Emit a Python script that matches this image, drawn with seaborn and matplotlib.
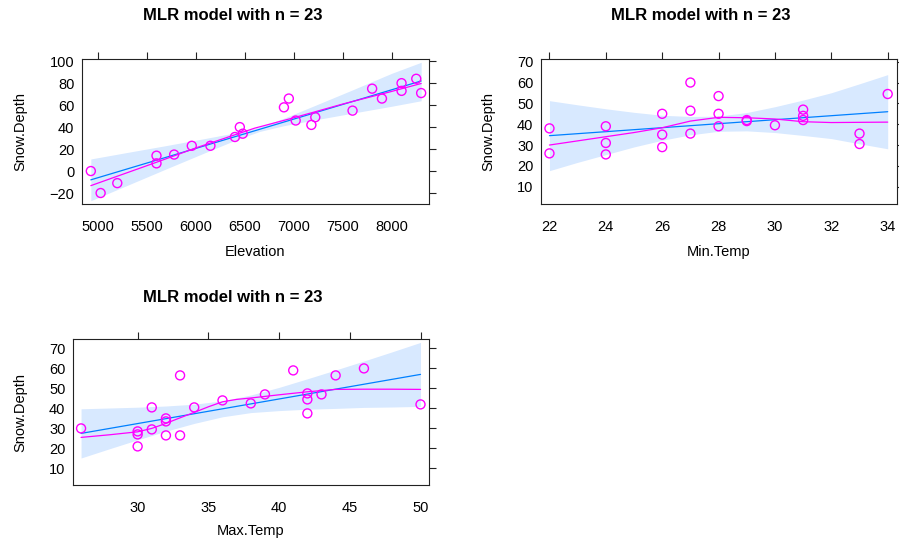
import numpy as np
import pandas as pd
import matplotlib
matplotlib.use("Agg")
import matplotlib.pyplot as plt
import seaborn as sns

# partial residuals (points)
elev_x = [4930, 5030, 5200, 5600, 5600, 5780, 5960, 6150, 6400, 6450, 6480, 6900,
          6950, 7020, 7180, 7220, 7600, 7800, 7900, 8100, 8100, 8250, 8300]
elev_y = [0, -20, -11, 14, 7, 15, 23, 23, 31, 40, 34, 58,
          66, 46, 42, 49, 55, 75, 66, 80, 73, 84, 71]

mint_x = [22, 22, 24, 24, 24, 26, 26, 26, 27, 27, 27, 28,
          28, 28, 29, 29, 30, 31, 31, 31, 33, 33, 34]
mint_y = [38, 26, 39, 31, 25.5, 45, 35, 29, 60, 46.5, 35.5, 53.5,
          45, 39, 41.5, 42, 39.5, 47, 44, 42, 35.5, 30.5, 54.5]

maxt_x = [26, 30, 30, 30, 31, 31, 32, 32, 32, 33, 33, 34,
          36, 38, 39, 41, 42, 42, 42, 43, 44, 46, 50]
maxt_y = [30, 28.5, 27, 21, 40.5, 29.5, 35, 33.5, 26.5, 56.5, 26.5, 40.5,
          44, 42.5, 47, 59, 47.5, 44.5, 37.5, 47, 56.5, 60, 42]

# fitted effect line
elev_fit_x = [4930, 8300]
elev_fit_y = [-8, 82]
mint_fit_x = [22, 34]
mint_fit_y = [34.5, 46]
maxt_fit_x = [26, 50]
maxt_fit_y = [27.5, 57]

# confidence band
elev_band_x = [4930, 5300, 5700, 6100, 6400, 6650, 6900, 7200, 7600, 8000, 8300]
elev_band_lo = [-27, -13.1, 2.0, 16.9, 27.9, 36.0, 41.3, 46.3, 52.7, 59.0, 64]
elev_band_hi = [11, 16.9, 23.2, 29.7, 34.7, 40.0, 48.1, 59.1, 73.9, 89.0, 99]

mint_band_x = [22, 23, 24, 25, 26, 27, 28, 29, 30, 31, 32, 33, 34]
mint_band_lo = [17.7, 21.7, 25.4, 29.1, 32.3, 34.9, 36.6, 36.8, 36.0, 34.6, 33.1, 30.6, 28.2]
mint_band_hi = [51.3, 49.3, 47.4, 45.7, 44.3, 43.7, 43.9, 45.6, 48.4, 51.6, 55.1, 59.4, 63.8]

maxt_band_x = [26, 28, 30, 32, 34, 36, 38, 40, 42, 44, 46, 48, 50]
maxt_band_lo = [15.2, 19.8, 24.3, 28.6, 32.5, 35.8, 37.9, 38.9, 39.6, 40.0, 40.5, 40.7, 41.0]
maxt_band_hi = [39.8, 40.2, 40.6, 41.2, 42.1, 43.8, 46.7, 50.5, 54.8, 59.2, 63.7, 68.3, 73.0]

# loess smooth of residuals
elev_sm_x = [4930, 5600, 6000, 6600, 7000, 7500, 8000, 8300]
elev_sm_y = [-13.3, 8, 21, 39, 48.5, 61, 72.5, 79.7]
mint_sm_x = [22, 23, 24, 25, 26, 27, 28, 29, 30, 31, 32, 33, 34]
mint_sm_y = [30, 32, 34, 36, 38.3, 41.5, 43.3, 43.1, 42.5, 41.2, 40.8, 40.9, 41.0]
maxt_sm_x = [26, 28, 30, 31, 32, 33, 34, 35, 36, 37, 38, 40, 42, 44, 46, 48, 50]
maxt_sm_y = [25.5, 26.8, 28.3, 30, 32.5, 35.3, 38, 40.8, 43.3, 44.5, 45.2, 46.8, 48.3,
             49.5, 49.6, 49.6, 49.5]

sns.set_style("white")
plt.rcParams['font.family'] = ['Liberation Sans', 'DejaVu Sans']
plt.rcParams['text.color'] = 'black'
plt.rcParams['xtick.color'] = 'black'
plt.rcParams['ytick.color'] = 'black'
plt.rcParams['axes.labelcolor'] = 'black'

BLUE = "#0080ff"
MAG = "#ff00ff"
BAND = "#d8e9ff"

fig = plt.figure(figsize=(8.99, 5.43), dpi=100)
W, H = 899, 543


def add_ax(l, t, r, b):
    return fig.add_axes([l / W, 1 - b / H, (r - l) / W, (b - t) / H])


panels = [
    dict(box=(82, 59, 429, 204), name="Elevation", px=elev_x, py=elev_y,
         fx=elev_fit_x, fy=elev_fit_y, bx=elev_band_x, blo=elev_band_lo, bhi=elev_band_hi,
         sx=elev_sm_x, sy=elev_sm_y, xlim=(4840, 8380), ylim=(-30, 102),
         xt=np.arange(5000, 8001, 500), yt=np.arange(-20, 101, 20),
         title=(233, 16), ylab=20, xlab=252),
    dict(box=(541, 59, 897, 204), name="Min.Temp", px=mint_x, py=mint_y,
         fx=mint_fit_x, fy=mint_fit_y, bx=mint_band_x, blo=mint_band_lo, bhi=mint_band_hi,
         sx=mint_sm_x, sy=mint_sm_y, xlim=(21.7, 34.33), ylim=(1.7, 71.3),
         xt=np.arange(22, 35, 2), yt=np.arange(10, 71, 10),
         title=(701, 16), ylab=488, xlab=252),
    dict(box=(73, 339, 429, 485), name="Max.Temp", px=maxt_x, py=maxt_y,
         fx=maxt_fit_x, fy=maxt_fit_y, bx=maxt_band_x, blo=maxt_band_lo, bhi=maxt_band_hi,
         sx=maxt_sm_x, sy=maxt_sm_y, xlim=(25.43, 50.6), ylim=(1.7, 74.7),
         xt=np.arange(30, 51, 5), yt=np.arange(10, 71, 10),
         title=(233, 297), ylab=20, xlab=531),
]

for p in panels:
    ax = add_ax(*p["box"])
    ax.fill_between(p["bx"], p["blo"], p["bhi"], color=BAND, linewidth=0, zorder=1)
    fit = pd.DataFrame({"x": p["fx"], "y": p["fy"]})
    sns.lineplot(data=fit, x="x", y="y", color=BLUE, linewidth=0.9, ax=ax, zorder=3)
    sm = pd.DataFrame({"x": p["sx"], "y": p["sy"]})
    sns.lineplot(data=sm, x="x", y="y", color=MAG, linewidth=0.9, ax=ax, zorder=3)
    pts = pd.DataFrame({"x": p["px"], "y": p["py"]})
    sns.scatterplot(data=pts, x="x", y="y", marker="o", s=42, facecolors="none",
                    edgecolor=MAG, linewidth=1.0, ax=ax, zorder=4)

    ax.set_xlim(*p["xlim"])
    ax.set_ylim(*p["ylim"])
    ax.set_xticks(p["xt"])
    ax.set_yticks(p["yt"])
    ax.tick_params(axis="both", direction="out", length=5, width=0.8, color="#222222",
                   labelsize=10.5, labelcolor="black", top=True, right=True,
                   left=False, bottom=False, labeltop=False, labelright=False)
    ax.tick_params(axis="y", pad=0.5)
    ax.tick_params(axis="x", pad=6.5)
    for s in ax.spines.values():
        s.set_color("#222222")
        s.set_linewidth(0.8)
    ax.set_xlabel("")
    ax.set_ylabel("")
    l, t, r, b = p["box"]
    fig.text(p["ylab"] / W, 1 - ((t + b) / 2) / H, "Snow.Depth", rotation=90,
             ha="center", va="center", fontsize=10.5)
    fig.text(((l + r) / 2) / W, 1 - p["xlab"] / H, p["name"],
             ha="center", va="center", fontsize=10.5)
    fig.text(p["title"][0] / W, 1 - p["title"][1] / H, "MLR model with n = 23",
             ha="center", va="center", fontsize=12, fontweight="bold")

fig.savefig("out.png", dpi=100)
